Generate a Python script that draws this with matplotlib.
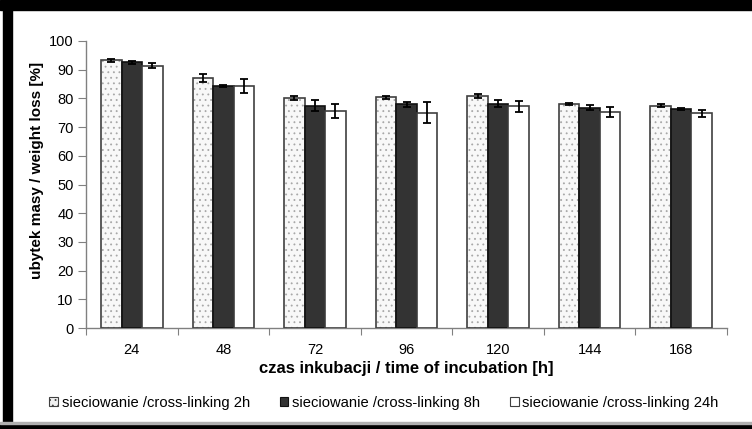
import matplotlib
matplotlib.use("Agg")
import matplotlib.pyplot as plt
import numpy as np
from matplotlib.patches import Rectangle, Patch

plt.rcParams['font.family'] = ['Liberation Sans', 'DejaVu Sans']
plt.rcParams['hatch.linewidth'] = 0.6

categories = ['24', '48', '72', '96', '120', '144', '168']
series_names = ['sieciowanie /cross-linking 2h', 'sieciowanie /cross-linking 8h', 'sieciowanie /cross-linking 24h']
vals_2h = [93.3, 87.0, 80.2, 80.4, 80.8, 78.0, 77.5]
vals_8h = [92.6, 84.3, 77.5, 77.9, 78.2, 76.8, 76.4]
vals_24h = [91.4, 84.4, 75.6, 75.0, 77.2, 75.2, 74.8]
err_2h = [0.5, 1.4, 0.7, 0.5, 0.8, 0.4, 0.6]
err_8h = [0.5, 0.2, 1.8, 0.8, 1.3, 1.0, 0.3]
err_24h = [0.8, 2.5, 2.3, 3.6, 1.9, 1.7, 1.3]
yticks = [0, 10, 20, 30, 40, 50, 60, 70, 80, 90, 100]

W, H = 752, 429
fig = plt.figure(figsize=(W/100, H/100), dpi=100)
ax = fig.add_axes([86/W, 1-328/H, (727-86)/W, (328-41)/H])

x = np.arange(len(categories))
bw = 0.224
gray = '#808080'

# 2h: stippled light bars
ax.bar(x - bw, vals_2h, bw, color='#f8f8f8', edgecolor='#a8a8a8', hatch='...', linewidth=0, zorder=2)
ax.bar(x - bw, vals_2h, bw, fill=False, edgecolor='#404040', linewidth=1.2, zorder=3)
ax.bar(x, vals_8h, bw, color='#333333', edgecolor='#111111', linewidth=1.2, zorder=3)
ax.bar(x + bw, vals_24h, bw, color='white', edgecolor='#404040', linewidth=1.2, zorder=3)

for off, v, e in [(-bw, vals_2h, err_2h), (0, vals_8h, err_8h), (bw, vals_24h, err_24h)]:
    ax.errorbar(x + off, v, yerr=e, fmt='none', ecolor='black', elinewidth=1.3,
                capsize=3.2, capthick=1.3, zorder=4)

ax.set_xlim(-0.5, len(categories) - 0.5)
ax.set_ylim(0, 100)
ax.set_yticks(yticks)
ax.set_yticklabels([str(t) for t in yticks], fontsize=10.5)
ax.set_xticks(np.arange(len(categories) + 1) - 0.5)
ax.set_xticklabels([])
ax.set_xticks(x, minor=True)
ax.set_xticklabels(categories, minor=True, fontsize=10.5)
ax.tick_params(axis='x', which='minor', length=0, pad=11)
ax.tick_params(axis='x', which='major', length=5, color=gray, direction='out')
ax.tick_params(axis='y', length=6, color=gray, pad=3)

for s in ['top', 'right']:
    ax.spines[s].set_visible(False)
for s in ['left', 'bottom']:
    ax.spines[s].set_color(gray)
    ax.spines[s].set_linewidth(1)

ax.set_ylabel('ubytek masy / weight loss [%]', fontsize=11, fontweight='bold')
ax.yaxis.set_label_coords((44-86)/641, (328-170)/287)
ax.set_xlabel('czas inkubacji / time of incubation [h]', fontsize=12, fontweight='bold', labelpad=3)

handles = [
    Patch(facecolor='#f0f0f0', edgecolor='#404040', hatch='...', linewidth=0.8),
    Patch(facecolor='#333333', edgecolor='#111111', linewidth=0.8),
    Patch(facecolor='white', edgecolor='#404040', linewidth=0.8),
]
fig.legend(handles, series_names, loc='center', bbox_to_anchor=(384/W, 1-403/H),
           ncol=3, frameon=False, fontsize=10.6, handlelength=0.6, handleheight=0.6,
           handletextpad=0.25, columnspacing=2.0)

# border
fig.patches.append(Rectangle((0, 1-10/H), 1, 10/H, transform=fig.transFigure, color='black', zorder=10))
fig.patches.append(Rectangle((3/W, 0), 9/W, 1, transform=fig.transFigure, color='black', zorder=10))
fig.patches.append(Rectangle((0, 0), 1, 5/H, transform=fig.transFigure, color='black', zorder=10))
fig.patches.append(Rectangle((0, 5/H), 1, 2/H, transform=fig.transFigure, color='#b0b0b0', zorder=10))

fig.savefig('out.png', dpi=100)
